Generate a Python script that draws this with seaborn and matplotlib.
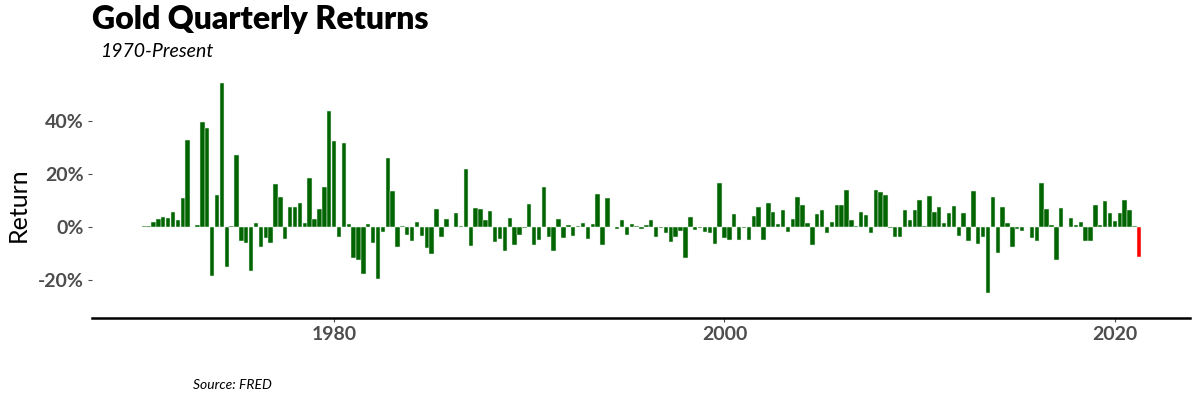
import pandas as pd
import seaborn as sns
import matplotlib.pyplot as plt

# quarterly gold returns in %, Q1 1970 .. Q1 2021
returns = [
    0.2, 0.5, 2.0, 3.1, 3.9, 3.5, 5.8, 2.6, 11.0, 32.6, 0.0, 0.8, 39.4, 37.1, -18.6, 12.0, 54.2, -15.1, 0.5, 27.2,
    -5.4, -6.2, -16.6, 1.4, -7.5, -4.3, -6.2, 16.0, 11.4, -4.5, 7.7, 7.7, 9.2, 1.4, 18.6, 3.1, 6.9, 15.2, 43.6, 32.2, -3.9,
    31.7, 1.0, -11.8, -12.6, -17.9, 1.1, -6.2, -19.7, -2.0, 25.8, 13.6, -7.5, 0.4, -3.0, -5.4, 1.8, -3.4, -8.0, -10.3, 6.9,
    -3.9, 3.1, 0.1, 5.4, 0.5, 22.0, -7.3, 7.2, 6.9, 2.8, 6.0, -5.8, -4.5, -9.2, 3.5, -6.7, -2.9, -0.5, 8.7, -6.9, -5.0,
    15.2, -3.6, -9.1, 3.1, -4.3, 0.9, -3.4, 0.5, 1.6, -4.5, 1.3, 12.6, -6.9, 10.8, 0.1, -0.9, 2.8, -3.1, 1.3, 0.2, -0.7,
    0.9, 2.8, -3.9, -0.5, -2.4, -5.8, -3.9, -1.5, -11.8, 3.9, -1.3, -0.5, -2.0, -2.4, -6.5, 16.4, -4.3, -4.8, 4.8, -5.0,
    -0.5, -4.8, 4.2, 7.7, -4.8, 9.1, 5.8, 1.1, 6.2, -2.0, 2.9, 11.4, 8.4, 1.4, -6.9, 4.7, 6.2, -2.4, 2.0, 8.4,
    8.4, 13.8, 2.8, 0.3, 5.8, 4.5, -2.1, 13.8, 13.3, 12.1, -0.5, -3.6, -3.6, 6.2, 2.5, 6.5, 10.3, 0.5, 11.8, 5.8, 7.7,
    1.4, 5.4, 8.0, -3.4, 5.4, -5.4, 13.6, -6.5, -3.9, -24.7, 11.1, -10.0, 7.7, 1.4, -7.7, -0.8, -1.6, -0.1, -4.3, -5.4,
    16.4, 6.9, 0.9, -12.6, 7.3, 0.1, 3.5, 0.9, 2.0, -5.4, -5.4, 8.4, 0.9, 9.6, 5.4, 2.4, 5.4, 10.3, 6.2, 0.5, -11.2,
]
quarter_ends = pd.date_range("1970-03-31", periods=len(returns), freq="QE")
year_ticks = [1980, 2000, 2020]
pct_ticks = [-20, 0, 20, 40]

df = pd.DataFrame({"date": quarter_ends, "ret": returns})
# quarter position on a decimal-year axis
df["x"] = (df["date"].dt.year + (df["date"].dt.quarter * 3) / 12).round(2)

sns.set_theme(style="white")
plt.rcParams["font.family"] = ["Lato", "DejaVu Sans"]

fig, ax = plt.subplots(figsize=(12, 4), dpi=100)
fig.subplots_adjust(left=0.0767, right=0.9917, bottom=0.205, top=0.8175)

sns.barplot(data=df, x="x", y="ret", native_scale=True, color="#006400",
            width=0.9, saturation=1, errorbar=None, linewidth=0.35,
            edgecolor="#E8F2E8", ax=ax)
# latest quarter in red
ax.patches[-1].set_facecolor("#FF0000")

ax.set_xlim(1967.6, 2023.85)
ax.set_ylim(-34.3, 58)
ax.set_xticks(year_ticks)
ax.set_xticklabels([str(y) for y in year_ticks])
ax.set_yticks(pct_ticks)
ax.set_yticklabels([f"{p}%" for p in pct_ticks])
ax.set_xlabel("")
ax.set_ylabel("")

for lab in ax.get_xticklabels() + ax.get_yticklabels():
    lab.set_fontweight("bold")
    lab.set_color("#4D4D4D")
    lab.set_fontsize(14)
ax.tick_params(axis="both", length=3, width=0.8, color="#4D4D4D", pad=3, bottom=True, left=True)

sns.despine(ax=ax, left=True)
ax.spines["bottom"].set_color("black")
ax.spines["bottom"].set_linewidth(1.8)

fig.text(0.0767, 0.9275, "Gold Quarterly Returns", fontsize=23, fontweight="heavy",
         color="black", va="baseline")
fig.text(0.0833, 0.8575, "1970-Present", fontsize=14, style="italic", color="black", va="baseline")
fig.text(0.015, 0.4875, "Return", fontsize=18, rotation=90, color="black", ha="center", va="center")
fig.text(0.161, 0.0275, "Source: FRED", fontsize=10, style="italic", color="black", va="baseline")

plt.savefig("out.png", dpi=100)
